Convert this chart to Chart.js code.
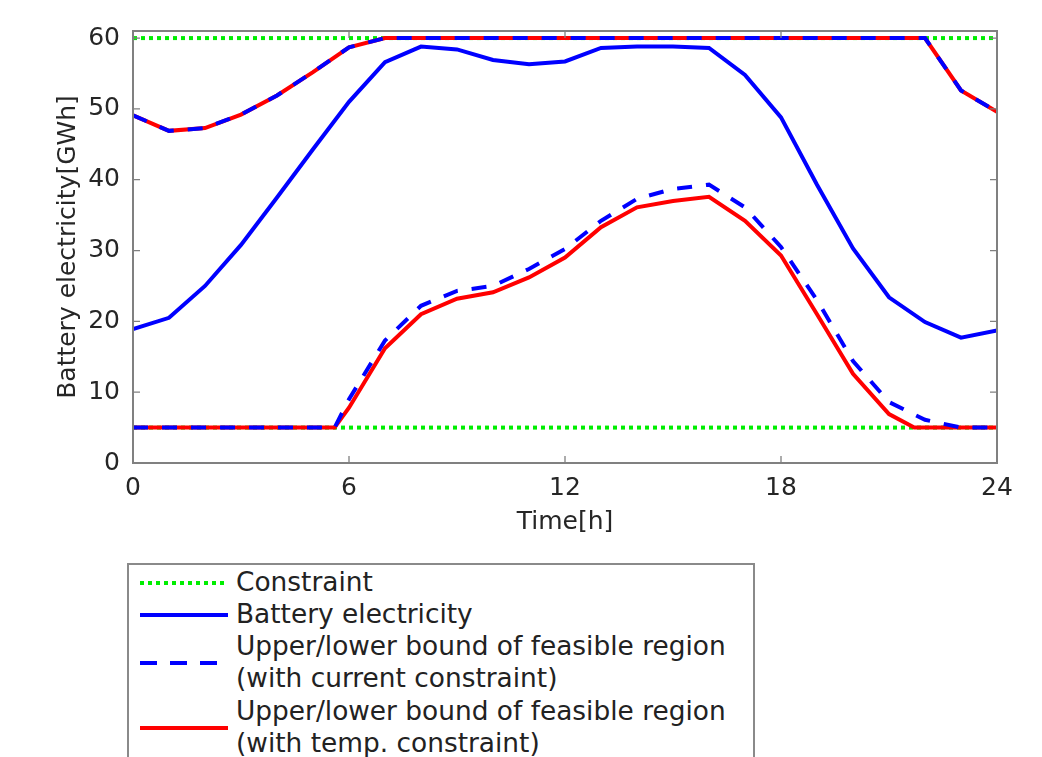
<!DOCTYPE html>
<html>
<head>
<meta charset="utf-8">
<script src="https://cdn.jsdelivr.net/npm/chart.js@4.4.1/dist/chart.umd.min.js"></script>
<style>
  body { margin: 0; background: #fff; }
  #wrap { position: relative; width: 1042px; height: 757px; overflow: hidden; }
  #legend {
    position: absolute; left: 127px; top: 563px; width: 624px; height: 230px;
    border: 2px solid #8a8a8a; background: #fff;
    font-family: "DejaVu Sans", sans-serif; font-size: 26.4px; color: #222;
  }
  #legend .row { position: absolute; left: 107px; line-height: 32px; white-space: nowrap; }
  #legend svg { position: absolute; left: 0; top: 0; }
</style>
</head>
<body>
<div id="wrap">
  <canvas id="chart" width="1042" height="757"></canvas>
  <div id="legend">
    <svg width="110" height="230">
      <line x1="11" y1="18" x2="99" y2="18" stroke="#00ee00" stroke-width="4" stroke-dasharray="4 4"/>
      <line x1="11" y1="50" x2="99" y2="50" stroke="#0000ff" stroke-width="4"/>
      <line x1="11" y1="98" x2="99" y2="98" stroke="#0000ff" stroke-width="4" stroke-dasharray="17 13"/>
      <line x1="11" y1="163" x2="99" y2="163" stroke="#ff0000" stroke-width="4"/>
    </svg>
    <div class="row" style="top:1px">Constraint</div>
    <div class="row" style="top:33px">Battery electricity</div>
    <div class="row" style="top:65px">Upper/lower bound of feasible region</div>
    <div class="row" style="top:97px">(with current constraint)</div>
    <div class="row" style="top:130px">Upper/lower bound of feasible region</div>
    <div class="row" style="top:162px">(with temp. constraint)</div>
  </div>
</div>
<script>
/* DATA */
const hours = [0, 1, 2, 3, 4, 5, 6, 7, 8, 9, 10, 11, 12, 13, 14, 15, 16, 17, 18, 19, 20, 21, 22, 23, 24];
const battery = [18.9, 20.5, 25.0, 30.8, 37.5, 44.3, 51.0, 56.6, 58.8, 58.4, 56.9, 56.3, 56.7, 58.6, 58.8, 58.8, 58.6, 54.8, 48.8, 39.3, 30.3, 23.4, 19.9, 17.7, 18.7];
const upperBound = [49.1, 46.9, 47.3, 49.2, 51.9, 55.2, 58.7, 60, 60, 60, 60, 60, 60, 60, 60, 60, 60, 60, 60, 60, 60, 60, 60, 52.6, 49.6];

const lowerCurrentHours = [0, 1, 2, 3, 4, 5, 5.6, 6, 7, 8, 9, 10, 11, 12, 13, 14, 15, 16, 17, 18, 19, 20, 21, 22, 23, 24];
const lowerCurrent = [5, 5, 5, 5, 5, 5, 5, 9.0, 17.3, 22.2, 24.3, 25.0, 27.4, 30.2, 34.2, 37.3, 38.7, 39.3, 36.1, 30.5, 23.0, 14.4, 8.6, 6.1, 5.0, 5.0];

const lowerTempHours = [0, 1, 2, 3, 4, 5, 5.6, 6, 7, 8, 9, 10, 11, 12, 13, 14, 15, 16, 17, 18, 19, 20, 21, 21.7, 22, 23, 24];
const lowerTemp = [5, 5, 5, 5, 5, 5, 5, 7.8, 16.2, 21.0, 23.2, 24.1, 26.2, 29.0, 33.3, 36.1, 37.0, 37.6, 34.2, 29.3, 21.0, 12.6, 6.9, 5, 5, 5, 5];

const constraintHours = [0, 24];
const constraintUpper = [60, 60];
const constraintLower = [5, 5];

const xTicks = [0, 6, 12, 18, 24];
const yTicks = [0, 10, 20, 30, 40, 50, 60];

function pts(xs, ys) {
  return xs.map((x, i) => ({ x: x, y: ys[i] }));
}

/* BOX + INWARD TICKS */
const boxPlugin = {
  id: "box",
  afterDatasetsDraw(chart) {
    const { ctx, chartArea: a, scales } = chart;
    ctx.save();
    ctx.strokeStyle = "#808080";
    ctx.lineWidth = 2;
    ctx.strokeRect(a.left, a.top, a.right - a.left, a.bottom - a.top);
    ctx.lineWidth = 1.3;
    ctx.beginPath();
    xTicks.forEach(v => {
      const px = scales.x.getPixelForValue(v);
      if (px <= a.left + 1 || px >= a.right - 1) return;
      ctx.moveTo(px, a.bottom); ctx.lineTo(px, a.bottom - 7);
      ctx.moveTo(px, a.top); ctx.lineTo(px, a.top + 7);
    });
    yTicks.forEach(v => {
      const py = scales.y.getPixelForValue(v);
      if (py >= a.bottom - 1) return;
      ctx.moveTo(a.left, py); ctx.lineTo(a.left + 7, py);
      ctx.moveTo(a.right, py); ctx.lineTo(a.right - 7, py);
    });
    ctx.stroke();
    ctx.restore();
  }
};

/* RENDER CHART */
const font = { family: "DejaVu Sans", size: 25 };
const titleFont = { family: "DejaVu Sans", size: 25 };

new Chart(document.getElementById("chart"), {
  type: "line",
  data: {
    datasets: [
      { label: "Upper bound (current)", data: pts(hours, upperBound), borderColor: "#0000ff", borderDash: [15, 14] },
      { label: "Lower bound (current)", data: pts(lowerCurrentHours, lowerCurrent), borderColor: "#0000ff", borderDash: [15, 14] },
      { label: "Battery electricity", data: pts(hours, battery), borderColor: "#0000ff" },
      { label: "Upper bound (temp)", data: pts(hours, upperBound), borderColor: "#ff0000" },
      { label: "Lower bound (temp)", data: pts(lowerTempHours, lowerTemp), borderColor: "#ff0000" },
      { label: "Constraint", data: pts(constraintHours, constraintUpper), borderColor: "#00ee00", borderDash: [4, 4] },
      { label: "Constraint low", data: pts(constraintHours, constraintLower), borderColor: "#00ee00", borderDash: [4, 4] }
    ]
  },
  options: {
    responsive: false,
    animation: false,
    layout: { padding: { left: 0, right: 45, top: 31, bottom: 214 } },
    elements: {
      point: { radius: 0 },
      line: { borderWidth: 4, tension: 0, fill: false, borderCapStyle: "butt" }
    },
    plugins: { legend: { display: false }, tooltip: { enabled: false } },
    scales: {
      x: {
        type: "linear", min: 0, max: 24,
        grid: { display: false, drawTicks: false },
        border: { display: false },
        ticks: { stepSize: 6, padding: 10, font: font, color: "#262626", maxRotation: 0, autoSkip: false },
        title: { display: true, text: "Time[h]", font: titleFont, color: "#262626", padding: { top: 0, bottom: 6 } },
        afterFit(scale) { scale.height = 80; }
      },
      y: {
        min: 0, max: 61,
        grid: { display: false, drawTicks: false },
        border: { display: false },
        ticks: { stepSize: 10, padding: 13, font: font, color: "#262626" },
        afterBuildTicks(scale) { scale.ticks = yTicks.map(v => ({ value: v })); },
        title: { display: true, text: "Battery electricity[GWh]", font: titleFont, color: "#262626", padding: { top: 53, bottom: 0 } },
        afterFit(scale) { scale.width = 133; }
      }
    }
  },
  plugins: [boxPlugin]
});
</script>
</body>
</html>
